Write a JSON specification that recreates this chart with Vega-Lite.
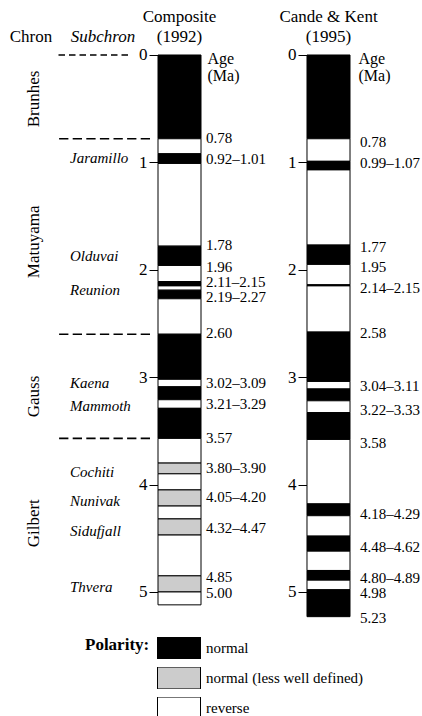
{
  "$schema": "https://vega.github.io/schema/vega-lite/v6.json",
  "width": 422,
  "height": 716,
  "autosize": "none",
  "padding": 0,
  "config": {
    "view": {"stroke": null},
    "font": "Liberation Serif",
    "axis": {"labelColor": "black", "tickColor": "black", "titleColor": "black", "domain": false, "grid": false, "titleFontWeight": "normal"},
    "text": {"color": "black"}
  },
  "datasets": {
    "intervals": [
      {"source": "Composite (1992)", "start": 0, "end": 0.78, "polarity": "normal"},
      {"source": "Composite (1992)", "start": 0.78, "end": 0.92, "polarity": "reverse"},
      {"source": "Composite (1992)", "start": 0.92, "end": 1.01, "polarity": "normal"},
      {"source": "Composite (1992)", "start": 1.01, "end": 1.78, "polarity": "reverse"},
      {"source": "Composite (1992)", "start": 1.78, "end": 1.96, "polarity": "normal"},
      {"source": "Composite (1992)", "start": 1.96, "end": 2.11, "polarity": "reverse"},
      {"source": "Composite (1992)", "start": 2.11, "end": 2.15, "polarity": "normal"},
      {"source": "Composite (1992)", "start": 2.15, "end": 2.19, "polarity": "reverse"},
      {"source": "Composite (1992)", "start": 2.19, "end": 2.27, "polarity": "normal"},
      {"source": "Composite (1992)", "start": 2.27, "end": 2.60, "polarity": "reverse"},
      {"source": "Composite (1992)", "start": 2.60, "end": 3.02, "polarity": "normal"},
      {"source": "Composite (1992)", "start": 3.02, "end": 3.09, "polarity": "reverse"},
      {"source": "Composite (1992)", "start": 3.09, "end": 3.21, "polarity": "normal"},
      {"source": "Composite (1992)", "start": 3.21, "end": 3.29, "polarity": "reverse"},
      {"source": "Composite (1992)", "start": 3.29, "end": 3.57, "polarity": "normal"},
      {"source": "Composite (1992)", "start": 3.57, "end": 3.80, "polarity": "reverse"},
      {"source": "Composite (1992)", "start": 3.80, "end": 3.90, "polarity": "normal (less well defined)"},
      {"source": "Composite (1992)", "start": 3.90, "end": 4.05, "polarity": "reverse"},
      {"source": "Composite (1992)", "start": 4.05, "end": 4.20, "polarity": "normal (less well defined)"},
      {"source": "Composite (1992)", "start": 4.20, "end": 4.32, "polarity": "reverse"},
      {"source": "Composite (1992)", "start": 4.32, "end": 4.47, "polarity": "normal (less well defined)"},
      {"source": "Composite (1992)", "start": 4.47, "end": 4.85, "polarity": "reverse"},
      {"source": "Composite (1992)", "start": 4.85, "end": 5.00, "polarity": "normal (less well defined)"},
      {"source": "Composite (1992)", "start": 5.00, "end": 5.12, "polarity": "reverse"},
      {"source": "Cande & Kent (1995)", "start": 0, "end": 0.78, "polarity": "normal"},
      {"source": "Cande & Kent (1995)", "start": 0.78, "end": 0.99, "polarity": "reverse"},
      {"source": "Cande & Kent (1995)", "start": 0.99, "end": 1.07, "polarity": "normal"},
      {"source": "Cande & Kent (1995)", "start": 1.07, "end": 1.77, "polarity": "reverse"},
      {"source": "Cande & Kent (1995)", "start": 1.77, "end": 1.95, "polarity": "normal"},
      {"source": "Cande & Kent (1995)", "start": 1.95, "end": 2.14, "polarity": "reverse"},
      {"source": "Cande & Kent (1995)", "start": 2.14, "end": 2.15, "polarity": "normal"},
      {"source": "Cande & Kent (1995)", "start": 2.15, "end": 2.58, "polarity": "reverse"},
      {"source": "Cande & Kent (1995)", "start": 2.58, "end": 3.04, "polarity": "normal"},
      {"source": "Cande & Kent (1995)", "start": 3.04, "end": 3.11, "polarity": "reverse"},
      {"source": "Cande & Kent (1995)", "start": 3.11, "end": 3.22, "polarity": "normal"},
      {"source": "Cande & Kent (1995)", "start": 3.22, "end": 3.33, "polarity": "reverse"},
      {"source": "Cande & Kent (1995)", "start": 3.33, "end": 3.58, "polarity": "normal"},
      {"source": "Cande & Kent (1995)", "start": 3.58, "end": 4.18, "polarity": "reverse"},
      {"source": "Cande & Kent (1995)", "start": 4.18, "end": 4.29, "polarity": "normal"},
      {"source": "Cande & Kent (1995)", "start": 4.29, "end": 4.48, "polarity": "reverse"},
      {"source": "Cande & Kent (1995)", "start": 4.48, "end": 4.62, "polarity": "normal"},
      {"source": "Cande & Kent (1995)", "start": 4.62, "end": 4.80, "polarity": "reverse"},
      {"source": "Cande & Kent (1995)", "start": 4.80, "end": 4.89, "polarity": "normal"},
      {"source": "Cande & Kent (1995)", "start": 4.89, "end": 4.98, "polarity": "reverse"},
      {"source": "Cande & Kent (1995)", "start": 4.98, "end": 5.23, "polarity": "normal"}
    ],
    "labels": [
      {"source": "Composite (1992)", "label": "0.78", "at": 0.77},
      {"source": "Composite (1992)", "label": "0.92–1.01", "at": 0.965},
      {"source": "Composite (1992)", "label": "1.78", "at": 1.77},
      {"source": "Composite (1992)", "label": "1.96", "at": 1.97},
      {"source": "Composite (1992)", "label": "2.11–2.15", "at": 2.11},
      {"source": "Composite (1992)", "label": "2.19–2.27", "at": 2.25},
      {"source": "Composite (1992)", "label": "2.60", "at": 2.59},
      {"source": "Composite (1992)", "label": "3.02–3.09", "at": 3.05},
      {"source": "Composite (1992)", "label": "3.21–3.29", "at": 3.25},
      {"source": "Composite (1992)", "label": "3.57", "at": 3.57},
      {"source": "Composite (1992)", "label": "3.80–3.90", "at": 3.85},
      {"source": "Composite (1992)", "label": "4.05–4.20", "at": 4.12},
      {"source": "Composite (1992)", "label": "4.32–4.47", "at": 4.40},
      {"source": "Composite (1992)", "label": "4.85", "at": 4.86},
      {"source": "Composite (1992)", "label": "5.00", "at": 5.01},
      {"source": "Cande & Kent (1995)", "label": "0.78", "at": 0.81},
      {"source": "Cande & Kent (1995)", "label": "0.99–1.07", "at": 1.01},
      {"source": "Cande & Kent (1995)", "label": "1.77", "at": 1.79},
      {"source": "Cande & Kent (1995)", "label": "1.95", "at": 1.97},
      {"source": "Cande & Kent (1995)", "label": "2.14–2.15", "at": 2.17},
      {"source": "Cande & Kent (1995)", "label": "2.58", "at": 2.59},
      {"source": "Cande & Kent (1995)", "label": "3.04–3.11", "at": 3.08},
      {"source": "Cande & Kent (1995)", "label": "3.22–3.33", "at": 3.305},
      {"source": "Cande & Kent (1995)", "label": "3.58", "at": 3.61},
      {"source": "Cande & Kent (1995)", "label": "4.18–4.29", "at": 4.27},
      {"source": "Cande & Kent (1995)", "label": "4.48–4.62", "at": 4.58},
      {"source": "Cande & Kent (1995)", "label": "4.80–4.89", "at": 4.87},
      {"source": "Cande & Kent (1995)", "label": "4.98", "at": 5.01},
      {"source": "Cande & Kent (1995)", "label": "5.23", "at": 5.24}
    ],
    "units": [
      {"level": "Chron", "name": "Brunhes", "start": 0, "at": 0.41},
      {"level": "Chron", "name": "Matuyama", "start": 0.78, "at": 1.74},
      {"level": "Chron", "name": "Gauss", "start": 2.60, "at": 3.18},
      {"level": "Chron", "name": "Gilbert", "start": 3.57, "at": 4.36},
      {"level": "Subchron", "name": "Jaramillo", "at": 0.96},
      {"level": "Subchron", "name": "Olduvai", "at": 1.87},
      {"level": "Subchron", "name": "Reunion", "at": 2.19},
      {"level": "Subchron", "name": "Kaena", "at": 3.05},
      {"level": "Subchron", "name": "Mammoth", "at": 3.27},
      {"level": "Subchron", "name": "Cochiti", "at": 3.88},
      {"level": "Subchron", "name": "Nunivak", "at": 4.15},
      {"level": "Subchron", "name": "Sidufjall", "at": 4.43},
      {"level": "Subchron", "name": "Thvera", "at": 4.95}
    ]
  },
  "layer": [
    {
      "data": {"name": "units"},
      "layer": [
        {
          "transform": [{"filter": "datum.level == 'Chron' && datum.start == 0"}],
          "mark": {"type": "rule", "color": "black", "strokeWidth": 1.6, "strokeDash": [0, 294, 6.5, 4, 6.5, 4, 6.5, 4, 6.5, 4, 6.5, 4, 6.5, 4, 6.5, 500]},
          "encoding": {
            "y": {"field": "start", "type": "quantitative", "scale": {"domain": [-0.512, 6.155], "reverse": true, "nice": false, "zero": false}, "axis": null}
          }
        },
        {
          "transform": [{"filter": "datum.level == 'Chron' && datum.start > 0"}],
          "mark": {"type": "rule", "color": "black", "strokeWidth": 1.6, "strokeDash": [0, 272, 9.3, 4.3, 9.3, 4.3, 9.3, 4.3, 9.3, 4.3, 9.3, 4.3, 9.3, 4.3, 9.3, 500]},
          "encoding": {
            "y": {"field": "start", "type": "quantitative", "scale": {"domain": [-0.512, 6.155], "reverse": true, "nice": false, "zero": false}, "axis": null}
          }
        },
        {
          "transform": [{"filter": "datum.level == 'Chron'"}],
          "mark": {"type": "text", "angle": 270, "fontSize": 17, "align": "center", "baseline": "middle"},
          "encoding": {
            "x": {
              "field": "level", "type": "nominal",
              "scale": {"type": "band", "domain": ["Chron", "Subchron"], "range": [-2, 142], "paddingInner": 0, "paddingOuter": 0},
              "axis": {"orient": "top", "offset": -55, "ticks": false, "tickSize": 0, "labelPadding": 10, "labelFontSize": 17, "labelAngle": 0, "labelOffset": -3, "labelBaseline": "bottom", "labelLimit": 0, "labelOverlap": false, "title": null, "domain": false,
                "labelFontStyle": {"condition": {"test": "datum.value == 'Subchron'", "value": "italic"}, "value": "normal"}}
            },
            "y": {"field": "at", "type": "quantitative", "scale": {"domain": [-0.512, 6.155], "reverse": true, "nice": false, "zero": false}, "axis": null},
            "text": {"field": "name"}
          }
        },
        {
          "transform": [{"filter": "datum.level == 'Subchron'"}],
          "mark": {"type": "text", "fontSize": 15, "fontStyle": "italic", "align": "left", "baseline": "middle"},
          "encoding": {
            "x": {"field": "level", "type": "nominal", "bandPosition": 0, "axis": null,
              "scale": {"type": "band", "domain": ["Chron", "Subchron"], "range": [-2, 142], "paddingInner": 0, "paddingOuter": 0}},
            "y": {"field": "at", "type": "quantitative", "scale": {"domain": [-0.512, 6.155], "reverse": true, "nice": false, "zero": false}, "axis": null},
            "text": {"field": "name"}
          }
        }
      ],
      "resolve": {"axis": {"x": "independent"}}
    },
    {
      "layer": [
        {
          "data": {"name": "intervals"},
          "mark": {"type": "rect", "stroke": "black", "strokeWidth": 1},
          "encoding": {
            "x": {
              "field": "source", "type": "nominal",
              "scale": {"type": "band", "domain": ["Composite (1992)", "Cande & Kent (1995)"], "range": [158, 350], "paddingInner": 0.7114, "paddingOuter": 0},
              "axis": {"orient": "top", "offset": -55, "ticks": false, "tickSize": 0, "labelPadding": 30, "labelFontSize": 17, "labelAngle": 0, "labelBaseline": "bottom", "labelLineHeight": 20, "labelLimit": 0, "labelOverlap": false, "title": null, "domain": false,
                "labelExpr": "[slice(datum.value, 0, indexof(datum.value, ' (')), slice(datum.value, indexof(datum.value, ' (') + 1)]"}
            },
            "y": {"field": "start", "type": "quantitative", "scale": {"domain": [-0.512, 6.155], "reverse": true, "nice": false, "zero": false}, "axis": null},
            "y2": {"field": "end"},
            "fill": {
              "field": "polarity", "type": "nominal",
              "scale": {"domain": ["normal", "normal (less well defined)", "reverse"], "range": ["#000000", "#cccccc", "#ffffff"]},
              "legend": {"orient": "none", "legendX": 85, "legendY": 637, "title": "Polarity:", "titleOrient": "left", "titleAnchor": "start", "titleBaseline": "top", "titleFontSize": 17, "titleFontWeight": "bold", "titleColor": "black", "titlePadding": 7,
                "symbolType": "M-1,-0.51H1V0.51H-1Z", "symbolSize": 1849, "symbolStrokeColor": "black", "symbolStrokeWidth": 1, "symbolOpacity": 1, "clipHeight": 22, "rowPadding": 8,
                "labelFontSize": 15, "labelColor": "black", "labelOffset": 5, "labelLimit": 0, "padding": 0, "offset": 0}
            }
          }
        },
        {
          "data": {"name": "labels"},
          "transform": [{"filter": "datum.source == 'Composite (1992)'"}],
          "mark": {"type": "text", "fontSize": 15, "align": "left", "baseline": "middle", "dx": 5},
          "encoding": {
            "x": {"field": "source", "type": "nominal", "bandPosition": 1, "axis": null,
              "scale": {"type": "band", "domain": ["Composite (1992)", "Cande & Kent (1995)"], "range": [158, 350], "paddingInner": 0.7114, "paddingOuter": 0}},
            "y": {"field": "at", "type": "quantitative", "scale": {"domain": [-0.512, 6.155], "reverse": true, "nice": false, "zero": false},
              "axis": {"orient": "left", "offset": -158, "values": [0, 1, 2, 3, 4, 5], "tickSize": 9, "tickWidth": 1, "labelPadding": 2, "labelFontSize": 17, "domain": false, "grid": false,
                "title": ["Age", "(Ma)"], "titleAngle": 0, "titleX": 49, "titleY": 50, "titleAlign": "left", "titleBaseline": "top", "titleFontSize": 16, "titleLineHeight": 17}},
            "text": {"field": "label"}
          }
        },
        {
          "data": {"name": "labels"},
          "transform": [{"filter": "datum.source == 'Cande & Kent (1995)'"}],
          "mark": {"type": "text", "fontSize": 15, "align": "left", "baseline": "middle", "dx": 10},
          "encoding": {
            "x": {"field": "source", "type": "nominal", "bandPosition": 1, "axis": null,
              "scale": {"type": "band", "domain": ["Composite (1992)", "Cande & Kent (1995)"], "range": [158, 350], "paddingInner": 0.7114, "paddingOuter": 0}},
            "y": {"field": "at", "type": "quantitative", "scale": {"domain": [-0.512, 6.155], "reverse": true, "nice": false, "zero": false},
              "axis": {"orient": "left", "offset": -307, "values": [0, 1, 2, 3, 4, 5], "tickSize": 9, "tickWidth": 1, "labelPadding": 2, "labelFontSize": 17, "domain": false, "grid": false,
                "title": ["Age", "(Ma)"], "titleAngle": 0, "titleX": 51, "titleY": 50, "titleAlign": "left", "titleBaseline": "top", "titleFontSize": 16, "titleLineHeight": 17}},
            "text": {"field": "label"}
          }
        }
      ],
      "resolve": {"axis": {"x": "independent", "y": "independent"}}
    }
  ],
  "resolve": {"scale": {"x": "independent"}, "axis": {"x": "independent", "y": "independent"}}
}
